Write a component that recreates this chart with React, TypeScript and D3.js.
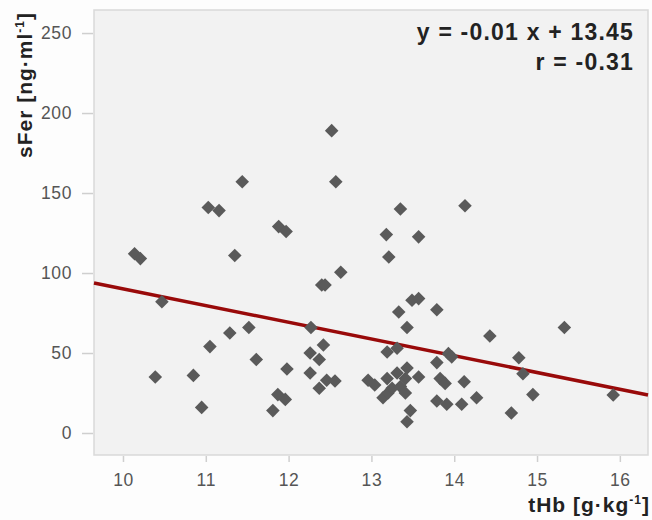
import React, { useEffect, useRef } from 'react';
import * as d3 from 'd3';

// tHb [g/kg] values
const tHb = [
  10.14, 10.21, 10.47, 10.39, 10.85, 10.95, 11.05, 11.03, 11.16, 11.44,
  11.35, 11.88, 11.97, 11.29, 11.52, 11.61, 11.98, 11.81, 11.87, 11.96,
  12.27, 12.26, 12.37, 12.26, 12.42, 12.37, 12.46, 12.56, 12.4, 12.44,
  12.52, 12.57, 12.63, 12.96, 13.04, 13.18, 13.21, 13.35, 13.19, 13.31,
  13.33, 13.43, 13.49, 13.57, 13.57, 14.13, 13.14, 13.2, 13.19, 13.25,
  13.31, 13.35, 13.41, 13.41, 13.47, 13.43, 13.43, 13.57, 13.79, 13.79,
  13.93, 13.97, 13.83, 13.89, 14.12, 13.79, 13.91, 14.09, 14.27, 14.43,
  14.78, 14.83, 14.95, 14.69, 15.33, 15.92
];

// sFer [ng/ml], same order
const sFer = [
  112, 109, 82, 35, 36, 16, 54, 141, 139, 157,
  111, 129, 126, 62.5, 66, 46, 40, 14, 24, 21,
  66, 50, 46, 37.5, 55, 28, 33, 32.5, 92.5, 92.5,
  189, 157, 100.5, 33, 30, 124, 110, 140, 50.6, 53,
  75.6, 66, 83, 84, 122.6, 142, 22, 25, 34, 28,
  37.5, 29, 34, 25, 14, 7, 40.6, 35, 77, 44,
  49.6, 47.6, 34, 31, 32, 20, 18, 18, 22, 60.6,
  47, 37, 24, 12.5, 66, 23.8
];

const xTicks = [10, 11, 12, 13, 14, 15, 16];
const yTicks = [0, 50, 100, 150, 200, 250];

// regression line as drawn (in plot units)
const fitSlope = -10.46;
const fitIntercept = 194.7;

const equationLines = ['y = -0.01 x + 13.45', 'r = -0.31'];

const W = 652;
const H = 520;
const FONT = '"Liberation Sans", Arial, Helvetica, sans-serif';

export default function App() {
  const ref = useRef<SVGSVGElement>(null);

  useEffect(() => {
    const svg = d3.select(ref.current);
    svg.selectAll('*').remove();

    const panel = { left: 94, top: 10, right: 648, bottom: 455 };

    const x = d3.scaleLinear().domain([9.65, 16.34]).range([panel.left, panel.right]);
    const y = d3.scaleLinear().domain([-13.75, 264.4]).range([panel.bottom, panel.top]);

    svg.append('rect').attr('width', W).attr('height', H).attr('fill', '#fdfdfd');

    svg
      .append('rect')
      .attr('x', panel.left)
      .attr('y', panel.top)
      .attr('width', panel.right - panel.left)
      .attr('height', panel.bottom - panel.top)
      .attr('fill', '#f2f2f2')
      .attr('stroke', '#d9d9d9')
      .attr('stroke-width', 1.5);

    // axes
    const yAxis = svg
      .append('g')
      .attr('transform', `translate(${panel.left - 1},0)`)
      .call(
        d3.axisLeft(y).tickValues(yTicks).tickFormat(d3.format('d')).tickSize(11).tickPadding(10)
      );
    const xAxis = svg
      .append('g')
      .attr('transform', `translate(0,${panel.bottom + 1})`)
      .call(
        d3.axisBottom(x).tickValues(xTicks).tickFormat(d3.format('d')).tickSize(6).tickPadding(12)
      );

    [yAxis, xAxis].forEach(g => {
      g.select('.domain').remove();
      g.selectAll('.tick line').attr('stroke', '#cfcfcf').attr('stroke-width', 1.5);
      g.selectAll('.tick text')
        .attr('fill', '#555')
        .style('font-family', FONT)
        .style('font-size', '17.5px')
        .style('letter-spacing', '0.6px');
    });

    // regression line
    const [x0, x1] = x.domain();
    svg
      .append('line')
      .attr('x1', x(x0))
      .attr('y1', y(fitIntercept + fitSlope * x0))
      .attr('x2', x(x1))
      .attr('y2', y(fitIntercept + fitSlope * x1))
      .attr('stroke', '#990a0a')
      .attr('stroke-width', 3.5);

    // points
    const diamond = d3.symbol().type(d3.symbolSquare).size(92);
    svg
      .append('g')
      .selectAll('path')
      .data(tHb.map((v, i) => [v, sFer[i]]))
      .enter()
      .append('path')
      .attr('d', diamond)
      .attr('transform', d => `translate(${x(d[0])},${y(d[1])}) rotate(45)`)
      .attr('fill', '#5a5a5a');

    // equation
    svg
      .append('g')
      .selectAll('text')
      .data(equationLines)
      .enter()
      .append('text')
      .attr('x', 634)
      .attr('y', (d, i) => 40 + i * 30)
      .attr('text-anchor', 'end')
      .attr('fill', '#222')
      .style('font-family', FONT)
      .style('font-size', '23px')
      .style('font-weight', 'bold')
      .style('letter-spacing', '1.2px')
      .text(d => d);

    // axis titles
    const yTitle = svg
      .append('text')
      .attr('transform', 'translate(32,12) rotate(-90)')
      .attr('text-anchor', 'end')
      .attr('fill', '#222')
      .style('font-family', FONT)
      .style('font-size', '21px')
      .style('font-weight', 'bold')
      .style('letter-spacing', '1px');
    yTitle.append('tspan').text('sFer [ng·ml');
    yTitle.append('tspan').attr('dy', -8).style('font-size', '12px').text('-1');
    yTitle.append('tspan').attr('dy', 8).text(']');

    const xTitle = svg
      .append('text')
      .attr('x', 650)
      .attr('y', 512)
      .attr('text-anchor', 'end')
      .attr('fill', '#222')
      .style('font-family', FONT)
      .style('font-size', '21px')
      .style('font-weight', 'bold')
      .style('letter-spacing', '1px');
    xTitle.append('tspan').text('tHb [g·kg');
    xTitle.append('tspan').attr('dy', -8).style('font-size', '12px').text('-1');
    xTitle.append('tspan').attr('dy', 8).text(']');
  }, []);

  return (
    <svg
      ref={ref}
      width={W}
      height={H}
      style={{ position: 'absolute', left: 0, top: 0 }}
    />
  );
}
